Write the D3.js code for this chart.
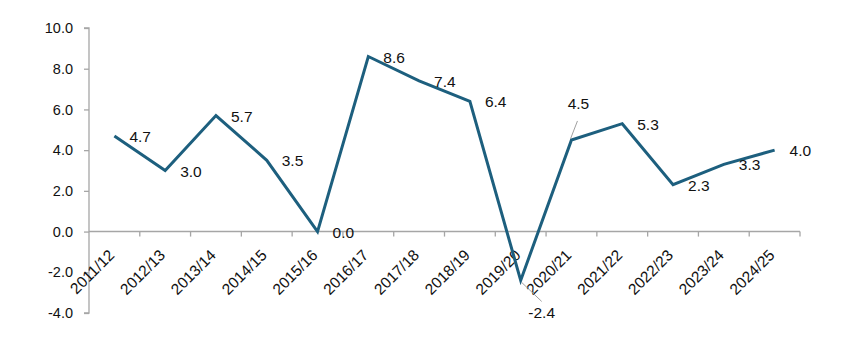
<!DOCTYPE html>
<html>
<head>
<meta charset="utf-8">
<script src="https://cdn.jsdelivr.net/npm/d3@7"></script>
<style>
  html, body { margin: 0; padding: 0; background: #ffffff; }
  svg { display: block; font-family: "Liberation Sans", Arial, sans-serif; }
</style>
</head>
<body>
<svg id="chart" width="845" height="347"></svg>
<script>
// Annual growth rate by fiscal year (%)
const years = ["2011/12","2012/13","2013/14","2014/15","2015/16","2016/17","2017/18",
               "2018/19","2019/20","2020/21","2021/22","2022/23","2023/24","2024/25"];
const growth = [4.7, 3.0, 5.7, 3.5, 0.0, 8.6, 7.4, 6.4, -2.4, 4.5, 5.3, 2.3, 3.3, 4.0];
const yTicks = [-4, -2, 0, 2, 4, 6, 8, 10];

const svg = d3.select("#chart");
const plotLeft = 89, plotRight = 800, plotTop = 28, plotBottom = 313;

const x = d3.scaleBand().domain(years).range([plotLeft, plotRight]).paddingInner(0).paddingOuter(0);
const y = d3.scaleLinear().domain([-4, 10]).range([plotBottom, plotTop]);
const cx = d => x(d) + x.bandwidth() / 2;
const fmt = d => d3.format(".1f")(d).replace("\u2212", "-");

const axisColor = "#a6a6a6";

// Y axis with ticks on the left
const yAxis = svg.append("g")
  .attr("transform", `translate(${plotLeft},0)`)
  .call(d3.axisLeft(y).tickValues(yTicks).tickFormat(fmt).tickSize(5).tickPadding(11));
yAxis.select(".domain").attr("stroke", axisColor).attr("stroke-width", 1.3)
  .attr("d", `M-5,${y(10)}H0V${y(-4)}H-5`);
yAxis.selectAll(".tick line").attr("stroke", axisColor).attr("stroke-width", 1.3);
yAxis.selectAll(".tick text")
  .attr("font-size", 14.5).attr("fill", "#111")
  .attr("font-family", "'Liberation Sans', Arial, sans-serif");

// X axis drawn along the zero line, ticks at category boundaries
const xAxis = svg.append("g").attr("transform", `translate(0,${y(0)})`);
xAxis.append("line")
  .attr("x1", plotLeft).attr("x2", plotRight).attr("y1", 0).attr("y2", 0)
  .attr("stroke", axisColor).attr("stroke-width", 1.6);
const boundaries = years.map(d => x(d)).slice(1).concat([x.range()[1]]);
xAxis.selectAll("line.tick").data(boundaries).join("line")
  .attr("class", "tick")
  .attr("x1", d => d).attr("x2", d => d).attr("y1", 0).attr("y2", 5)
  .attr("stroke", axisColor).attr("stroke-width", 1.3);
xAxis.selectAll("text.cat").data(years).join("text")
  .attr("class", "cat")
  .attr("font-size", 15.5).attr("fill", "#111")
  .attr("text-anchor", "end")
  .attr("transform", d => `translate(${cx(d) + 1},${24.5}) rotate(-45)`)
  .text(d => d);

// Growth line
const line = d3.line().x((d, i) => cx(years[i])).y(d => y(d));
svg.append("path")
  .datum(growth)
  .attr("fill", "none")
  .attr("stroke", "#1d5f7e")
  .attr("stroke-width", 3)
  .attr("stroke-linejoin", "miter")
  .attr("d", line);

// Leader lines for labels placed away from their points
const leaders = { "2019/20": [[1, 2], [21, 21]], "2020/21": [[-1, -1], [6, -19]] };
Object.entries(leaders).forEach(([yr, pts]) => {
  const i = years.indexOf(yr);
  const px = cx(yr), py = y(growth[i]);
  svg.append("line")
    .attr("x1", px + pts[0][0]).attr("y1", py + pts[0][1])
    .attr("x2", px + pts[1][0]).attr("y2", py + pts[1][1])
    .attr("stroke", "#a0a0a0").attr("stroke-width", 1);
});

// Value labels
const labelOffset = { "2019/20": [21, 32, "middle"], "2020/21": [7, -36, "middle"] };
svg.selectAll("text.val").data(growth).join("text")
  .attr("class", "val")
  .attr("font-size", 15.5).attr("fill", "#111")
  .attr("dominant-baseline", "central")
  .attr("text-anchor", (d, i) => (labelOffset[years[i]] || [0, 0, "start"])[2])
  .attr("x", (d, i) => cx(years[i]) + (labelOffset[years[i]] || [15])[0])
  .attr("y", (d, i) => y(d) + (labelOffset[years[i]] || [0, 0.5])[1])
  .text(d => fmt(d));
</script>
</body>
</html>
